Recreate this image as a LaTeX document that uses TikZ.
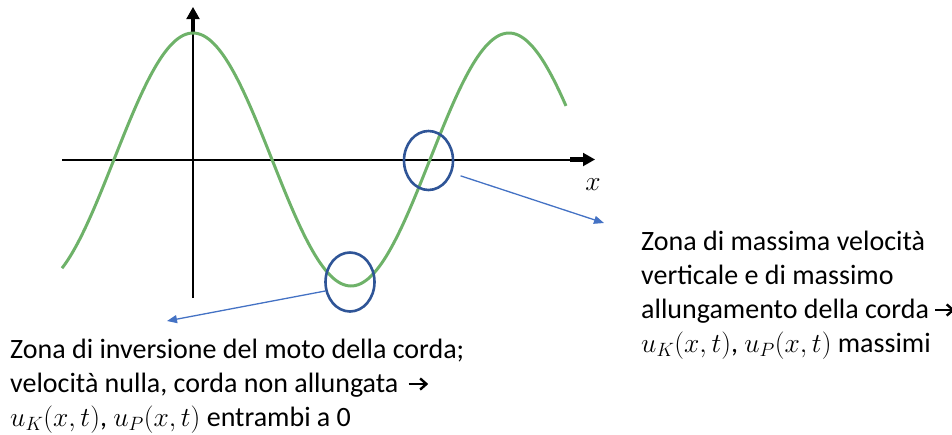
\RequirePackage{fix-cm}
\documentclass[tikz,border=0pt]{standalone}
\usepackage{fontspec}
\setmainfont{Carlito}
\usetikzlibrary{arrows.meta,shapes.geometric}
\definecolor{curvegreen}{RGB}{110,178,105}
\definecolor{ringblue}{RGB}{47,85,151}
\definecolor{arrowblue}{RGB}{68,114,196}
\newcommand{\smallarr}{\tikz[baseline=0pt, x=1pt, y=1pt]{%
  \draw[line width=2.4pt, black] (0,8) -- (17,8);
  \draw[line width=2.4pt, black, line join=miter] (11.5,2.4) -- (17.8,8) -- (11.5,13.6);}}
\newcommand{\largemath}[1]{{\fontsize{27.5}{34}\selectfont$#1$}}
\tikzset{
  axisline/.style={line width=2pt, black,
    -{Rectangle[length=14pt,width=4.5pt,sep=-1pt]Triangle[length=12pt,width=13pt]}},
  wave/.style={curvegreen, line width=3pt},
  ring/.style={ellipse, draw=ringblue, line width=2.6pt, inner sep=0pt,
    minimum width=49pt, minimum height=59pt},
  pointer/.style={arrowblue, line width=1.3pt, -{Triangle[length=10pt,width=8pt]}},
  label/.style={anchor=base west, inner sep=0pt, align=left,
    font=\fontsize{28}{34}\selectfont},
}
\begin{document}
\begin{tikzpicture}[x=1pt,y=-1pt]
\useasboundingbox (0,0) rectangle (952,434);
% axes
\coordinate (xs) at (62,159.5);
\coordinate (xe) at (595,159.5);
\coordinate (ys) at (193,298);
\coordinate (ye) at (193,7);
\draw[axisline] (xs) -- (xe);
\draw[axisline] (ys) -- (ye);
\node[inner sep=0pt, anchor=base] (xl) at (593,190) {\largemath{x}};
% wave
\draw[wave] plot[domain=62:566, samples=200, smooth] (\x, {159.5-126.5*cos(1.139241*(\x-193))});
% rings
\node[ring] (c1) at (428.5,160.5) {};
\node[ring] (c2) at (350,282) {};
% pointers
\coordinate (e1) at (604,223);
\coordinate (e2) at (167,321);
\draw[pointer, shorten <=9pt] (c1.-28) -- (e1);
\draw[pointer] (c2.200) -- (e2);
% texts
\node[label] (t1) at (10,426) {Zona di inversione del moto della corda;\\
velocità nulla, corda non allungata\hspace{9pt}\smallarr\\
\largemath{u_K(x,t)}, \largemath{u_P(x,t)} entrambi a 0};
\node[label] (t2) at (641,352) {Zona di massima velocità\\
verticale e di massimo\\
allungamento della corda\hspace{5pt}\smallarr\\
\largemath{u_K(x,t)}, \largemath{u_P(x,t)} massimi};
\end{tikzpicture}
\end{document}
